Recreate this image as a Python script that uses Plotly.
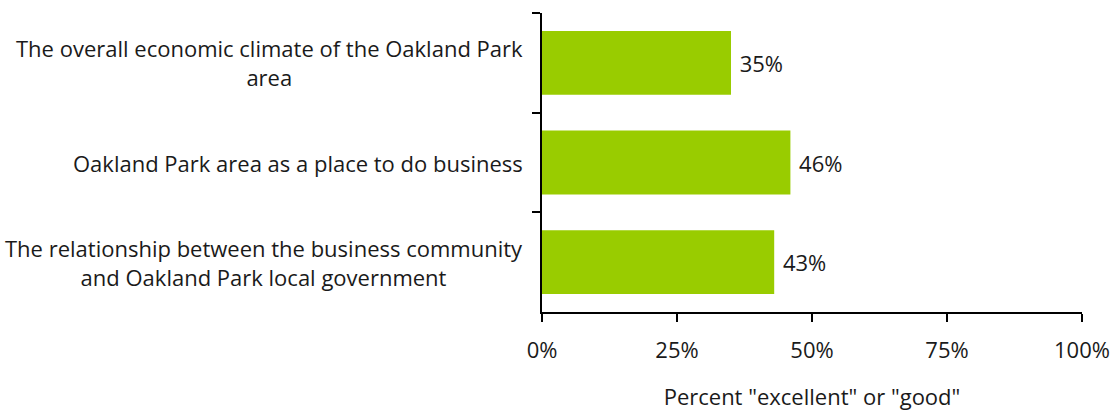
import plotly.graph_objects as go

categories = [
    "The overall economic climate of the Oakland Park<br>area",
    "Oakland Park area as a place to do business",
    "The relationship between the business community<br>and Oakland Park local government",
]
values = [0.35, 0.46, 0.43]
value_labels = ["35%", "46%", "43%"]
x_tick_values = [0, 0.25, 0.5, 0.75, 1.0]
x_tick_labels = ["0%", "25%", "50%", "75%", "100%"]
x_title = 'Percent "excellent" or "good"'

FONT = "Open Sans"
TEXT_SIZE = 22
TEXT_COLOR = "#1a1a1a"
BAR_COLOR = "#99CC00"

fig = go.Figure(
    go.Bar(
        x=values,
        y=categories,
        orientation="h",
        marker=dict(color=BAR_COLOR, line=dict(width=0)),
        text=[" " + t for t in value_labels],
        textposition="outside",
        textfont=dict(family=FONT, size=TEXT_SIZE, color=TEXT_COLOR),
        cliponaxis=False,
        hoverinfo="skip",
    )
)

# category labels, centred on each line and set right of the axis
for cat in categories:
    fig.add_annotation(
        x=0, xref="paper", y=cat, yref="y",
        text=cat, showarrow=False,
        xanchor="right", yanchor="middle", align="center",
        xshift=-17,
        font=dict(family=FONT, size=TEXT_SIZE, color=TEXT_COLOR),
    )

fig.update_layout(
    width=1115, height=412,
    margin=dict(l=542, r=33, t=13, b=100),
    paper_bgcolor="white", plot_bgcolor="white",
    bargap=0.36,
    showlegend=False,
    font=dict(family=FONT, size=TEXT_SIZE, color=TEXT_COLOR),
)
fig.update_xaxes(
    range=[0, 1],
    automargin=False,
    tickvals=x_tick_values, ticktext=x_tick_labels,
    ticks="outside", ticklen=8, tickwidth=2, tickcolor="black",
    ticklabelstandoff=10,
    showline=True, linecolor="black", linewidth=2,
    showgrid=False, zeroline=False,
    tickfont=dict(family=FONT, size=TEXT_SIZE, color=TEXT_COLOR),
    title=dict(text=x_title, font=dict(family=FONT, size=TEXT_SIZE, color=TEXT_COLOR), standoff=26),
)
fig.update_yaxes(
    autorange="reversed",
    automargin=False,
    showticklabels=False,
    ticks="outside", tickson="boundaries", ticklen=8, tickwidth=2, tickcolor="black",
    showline=True, linecolor="black", linewidth=2,
    showgrid=False, zeroline=False,
)

fig.write_html("out.html")
